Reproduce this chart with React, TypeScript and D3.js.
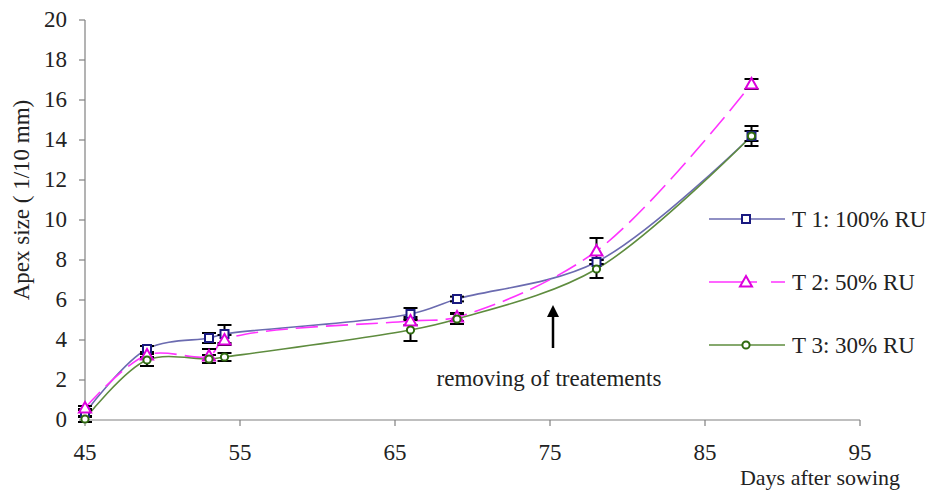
import React from "react";
import * as d3 from "d3";

const days = [45, 49, 53, 54, 66, 69, 78, 88];
const t1Values = [0.35, 3.55, 4.1, 4.3, 5.3, 6.05, 7.9, 14.2];
const t1Err = [0.2, 0.15, 0.25, 0.45, 0.3, 0.12, 0.1, 0.25];
const t2Values = [0.6, 3.25, 3.2, 4.0, 4.95, 5.15, 8.45, 16.8];
const t2Err = [0.1, 0.1, 0.35, 0.25, 0.2, 0.2, 0.65, 0.25];
const t3Values = [0.05, 3.0, 3.05, 3.15, 4.5, 5.05, 7.55, 14.2];
const t3Err = [0.15, 0.3, 0.2, 0.2, 0.55, 0.25, 0.45, 0.5];
const seriesNames = ["T 1: 100% RU", "T 2: 50% RU", "T 3: 30% RU"];
const xTicks = [45, 55, 65, 75, 85, 95];
const yTicks = [0, 2, 4, 6, 8, 10, 12, 14, 16, 18, 20];

const FONT = "'Liberation Serif', 'Times New Roman', serif";

export default function App() {
  const W = 927, H = 492;
  const x = d3.scaleLinear().domain([45, 95]).range([85, 860]);
  const y = d3.scaleLinear().domain([0, 20]).range([420, 20]);
  const line = d3
    .line<[number, number]>()
    .x((d) => x(d[0]))
    .y((d) => y(d[1]))
    .curve(d3.curveCatmullRom.alpha(0.5));

  const series = [
    { vals: t1Values, err: t1Err, line: "#6b6bb0", mark: "#1a1a80", dash: undefined, shape: "square" },
    { vals: t2Values, err: t2Err, line: "#ff33ff", mark: "#dd00dd", dash: "22,8", shape: "triangle" },
    { vals: t3Values, err: t3Err, line: "#5e8c3e", mark: "#2f6a10", dash: undefined, shape: "circle" },
  ];

  const marker = (shape: string, cx: number, cy: number, color: string, key: string) => {
    if (shape === "square")
      return <rect key={key} x={cx - 4} y={cy - 4} width={8} height={8} fill="white" stroke={color} strokeWidth={2} />;
    if (shape === "triangle")
      return (
        <path key={key} d={`M${cx},${cy - 6}L${cx + 6},${cy + 4.5}L${cx - 6},${cy + 4.5}Z`} fill="white" stroke={color} strokeWidth={2} />
      );
    return <circle key={key} cx={cx} cy={cy} r={3.6} fill="white" stroke={color} strokeWidth={2} />;
  };

  const legendY = [219, 282, 345];

  return (
    <svg width={W} height={H} style={{ position: "absolute", left: 0, top: 0, background: "white" }} fontFamily={FONT}>
      <rect width={W} height={H} fill="white" />
      {/* axes */}
      <line x1={x(45)} x2={x(45)} y1={y(0)} y2={y(20)} stroke="#808080" strokeWidth={1.2} />
      <line x1={x(45)} x2={x(95)} y1={y(0)} y2={y(0)} stroke="#808080" strokeWidth={1.2} />
      {yTicks.map((t) => (
        <g key={"y" + t}>
          <line x1={x(45) - 6} x2={x(45)} y1={y(t)} y2={y(t)} stroke="#808080" strokeWidth={1.2} />
          <text x={67} y={y(t) + 7} textAnchor="end" fontSize={23} fill="#222">
            {t}
          </text>
        </g>
      ))}
      {xTicks.map((t) => (
        <g key={"x" + t}>
          <line x1={x(t)} x2={x(t)} y1={y(0)} y2={y(0) + 6} stroke="#808080" strokeWidth={1.2} />
          <text x={x(t)} y={460} textAnchor="middle" fontSize={23} fill="#222">
            {t}
          </text>
        </g>
      ))}
      <text transform="translate(29,200) rotate(-90)" textAnchor="middle" fontSize={23} fill="#222">
        Apex size ( 1/10 mm)
      </text>
      <text x={900} y={485} textAnchor="end" fontSize={22} fill="#222">
        Days after sowing
      </text>

      {/* lines */}
      {series.map((s, i) => (
        <path
          key={"l" + i}
          d={line(days.map((d, j) => [d, s.vals[j]] as [number, number])) || ""}
          fill="none"
          stroke={s.line}
          strokeWidth={1.6}
          strokeDasharray={s.dash}
        />
      ))}

      {/* error bars */}
      {series.map((s, i) =>
        days.map((d, j) => {
          const cx = x(d);
          const lo = y(s.vals[j] - s.err[j]);
          const hi = y(s.vals[j] + s.err[j]);
          return (
            <g key={`e${i}-${j}`} stroke="#000" strokeWidth={2}>
              <line x1={cx} x2={cx} y1={lo} y2={hi} />
              <line x1={cx - 7} x2={cx + 7} y1={lo} y2={lo} />
              <line x1={cx - 7} x2={cx + 7} y1={hi} y2={hi} />
            </g>
          );
        })
      )}

      {/* markers */}
      {series.map((s, i) => days.map((d, j) => marker(s.shape, x(d), y(s.vals[j]), s.mark, `m${i}-${j}`)))}

      {/* annotation */}
      <line x1={553} x2={553} y1={348} y2={314} stroke="#000" strokeWidth={2.5} />
      <path d="M553,305L559,317L547,317Z" fill="#000" />
      <text x={549} y={386} textAnchor="middle" fontSize={23} fill="#222">
        removing of treatements
      </text>

      {/* legend */}
      {series.map((s, i) => (
        <g key={"lg" + i}>
          <line x1={709} x2={785} y1={legendY[i]} y2={legendY[i]} stroke={s.line} strokeWidth={1.6} strokeDasharray={s.dash ? "48,14" : undefined} />
          {marker(s.shape, 746, legendY[i], s.mark, "lm" + i)}
          <text x={792} y={legendY[i] + 8} fontSize={23} fill="#222">
            {seriesNames[i]}
          </text>
        </g>
      ))}
    </svg>
  );
}
